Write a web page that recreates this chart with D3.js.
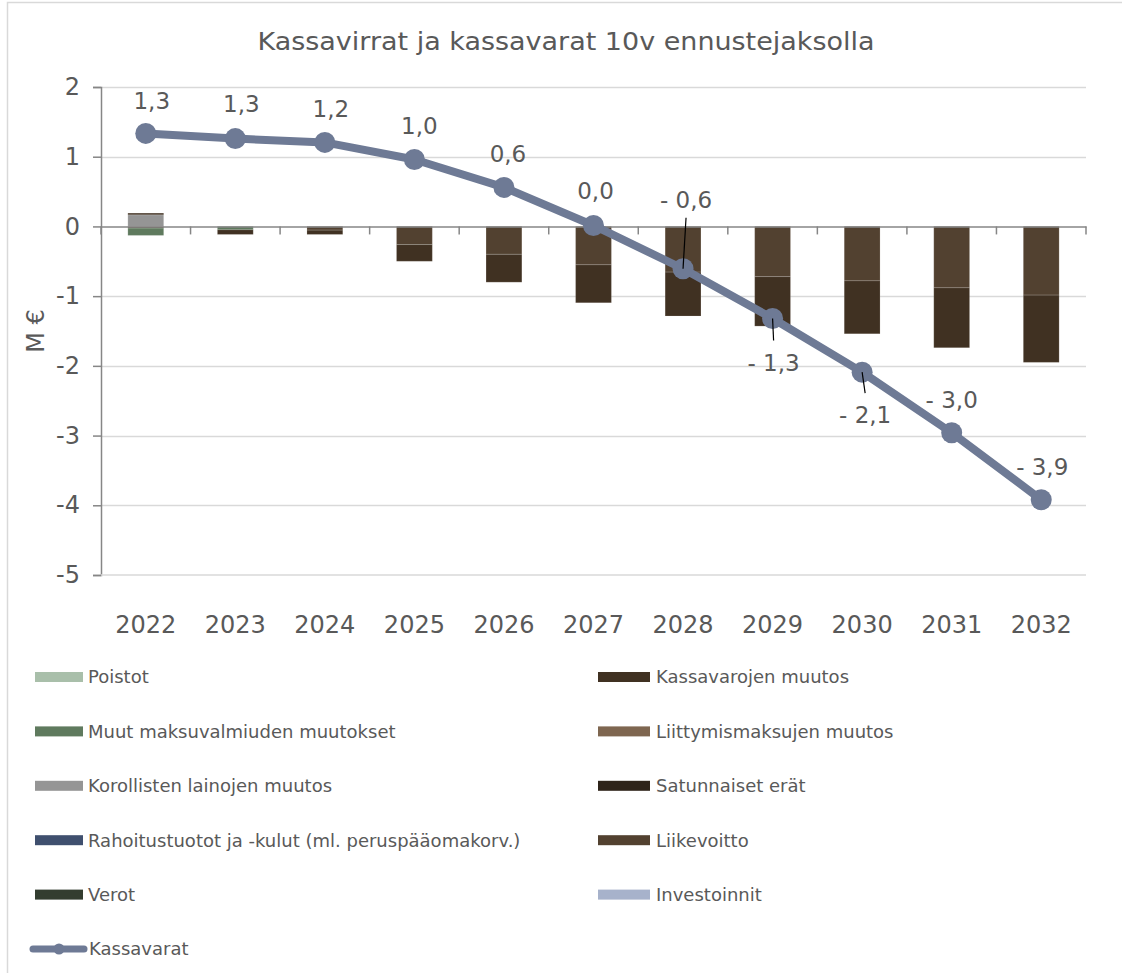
<!DOCTYPE html>
<html>
<head>
<meta charset="utf-8">
<script src="https://cdn.jsdelivr.net/npm/d3@7"></script>
<style>
  body { margin: 0; background: #fff; }
  text { font-family: "DejaVu Sans", Verdana, sans-serif; fill: #595959; }
</style>
</head>
<body>
<div id="chart"></div>
<script>
// years and series (M €)
const years = ["2022", "2023", "2024", "2025", "2026", "2027", "2028", "2029", "2030", "2031", "2032"];

const poistot        = [0, 0, 0, 0, 0, 0, 0, 0, 0, 0, 0];
const muutMaksu      = [-0.105, -0.048, 0, 0, 0, 0, 0, 0, 0, 0, 0];
const korollisetLainat = [0.167, 0, 0, 0, 0, 0, 0, 0, 0, 0, 0];
const rahoitus       = [0, 0, 0, 0, 0, 0, 0, 0, 0, 0, 0];
const verot          = [0, 0, 0, 0, 0, 0, 0, 0, 0, 0, 0];
const kassavarojenMuutos = [0.024, -0.067, -0.062, -0.24, -0.40, -0.545, -0.63, -0.71, -0.76, -0.86, -0.965];
const liittymismaksut = [0, 0, 0, 0, 0, 0, 0, 0, 0, 0, 0];
const satunnaiset    = [0, 0, 0, 0, 0, 0, 0, 0, 0, 0, 0];
const liikevoitto    = [-0.024, 0, -0.053, -0.26, -0.40, -0.55, -0.655, -0.72, -0.78, -0.88, -0.985];
const investoinnit   = [0, 0, 0, 0, 0, 0, 0, 0, 0, 0, 0];

const kassavarat = [1.334, 1.26, 1.205, 0.96, 0.56, 0.014, -0.607, -1.32, -2.09, -2.96, -3.92];

const yTicks = [2, 1, 0, -1, -2, -3, -4, -5];

const series = [
  { key: "Poistot", values: poistot, color: "#A9BFAA" },
  { key: "Muut maksuvalmiuden muutokset", values: muutMaksu, color: "#5F7A5E" },
  { key: "Korollisten lainojen muutos", values: korollisetLainat, color: "#959595" },
  { key: "Rahoitustuotot ja -kulut (ml. peruspääomakorv.)", values: rahoitus, color: "#3F4F6E" },
  { key: "Verot", values: verot, color: "#333D30" },
  { key: "Kassavarojen muutos", values: kassavarojenMuutos, color: "#403122" },
  { key: "Liittymismaksujen muutos", values: liittymismaksut, color: "#7E6650" },
  { key: "Satunnaiset erät", values: satunnaiset, color: "#2E241A" },
  { key: "Liikevoitto", values: liikevoitto, color: "#524130" },
  { key: "Investoinnit", values: investoinnit, color: "#A7B2CB" }
];
// order the segments are piled from the axis outward
const stackOrder = ["Liikevoitto", "Poistot", "Muut maksuvalmiuden muutokset", "Korollisten lainojen muutos",
  "Rahoitustuotot ja -kulut (ml. peruspääomakorv.)", "Verot", "Liittymismaksujen muutos",
  "Satunnaiset erät", "Investoinnit", "Kassavarojen muutos"];

const lineColor = "#6E7A95";

// label placement per point: dx, dy from the marker; lead = draw a leader line
const labelPlace = [
  { dx: 6, dy: -33 }, { dx: 6, dy: -35 }, { dx: 6, dy: -34 }, { dx: 5, dy: -34 },
  { dx: 4, dy: -34 }, { dx: 2, dy: -35 }, { dx: 3, dy: -69, lead: true },
  { dx: 1, dy: 44, lead: true }, { dx: 3, dy: 43, lead: true }, { dx: 0, dy: -33 }, { dx: 1, dy: -33 }
];

const width = 1122;
const height = 973;
const margins = { top: 87, bottom: 398, left: 101, right: 36 };

const table = years.map((y, i) => {
  const row = { year: y };
  series.forEach(s => row[s.key] = s.values[i]);
  return row;
});
console.log('table', table);

const stacked = d3.stack()
  .keys(stackOrder)
  .offset(d3.stackOffsetDiverging)(table);

const xScale = d3.scaleBand()
  .domain(years)
  .range([margins.left, width - margins.right]);

const yScale = d3.scaleLinear()
  .domain([-5, 2])
  .range([height - margins.bottom, margins.top]);

const colorOf = d3.scaleOrdinal()
  .domain(series.map(s => s.key))
  .range(series.map(s => s.color));

const svg = d3.select("#chart")
  .append("svg")
  .attr("width", width)
  .attr("height", height);

// chart frame
svg.append("rect")
  .attr("x", 7.5).attr("y", 2.5)
  .attr("width", 1200).attr("height", 1200)
  .attr("fill", "none")
  .attr("stroke", "#D9D9D9")
  .attr("stroke-width", 1.5);

svg.append("text")
  .attr("x", 566)
  .attr("y", 50)
  .attr("text-anchor", "middle")
  .attr("textLength", 617)
  .attr("lengthAdjust", "spacingAndGlyphs")
  .style("font-size", "25px")
  .text("Kassavirrat ja kassavarat 10v ennustejaksolla");

// grid
svg.selectAll("line.grid")
  .data(yTicks.filter(d => d !== 0 && d !== -5))
  .join("line")
  .attr("class", "grid")
  .attr("x1", margins.left)
  .attr("x2", width - margins.right)
  .attr("y1", d => Math.round(yScale(d)) + 0.5)
  .attr("y2", d => Math.round(yScale(d)) + 0.5)
  .attr("stroke", "#D9D9D9")
  .attr("stroke-width", 1.5);

// y axis
const yAxis = svg.append("g")
  .attr("transform", `translate(${margins.left},0)`)
  .call(d3.axisLeft(yScale).tickValues(yTicks).tickSize(8).tickPadding(13).tickFormat(d => String(d)));
yAxis.select(".domain").attr("stroke", "#868686").attr("stroke-width", 1.5);
yAxis.selectAll(".tick line").attr("stroke", "#868686").attr("stroke-width", 1.5);
yAxis.selectAll(".tick text").style("font-size", "24px").attr("fill", "#595959").style("font-family", "DejaVu Sans");

svg.append("line")
  .attr("x1", margins.left)
  .attr("x2", width - margins.right)
  .attr("y1", yScale(-5))
  .attr("y2", yScale(-5))
  .attr("stroke", "#D9D9D9")
  .attr("stroke-width", 1.5);

svg.append("text")
  .attr("transform", `translate(44,${yScale(-1.5)}) rotate(-90)`)
  .attr("text-anchor", "middle")
  .style("font-size", "24px")
  .text("M €");

// bars
const barW = xScale.bandwidth() / 2.5;
svg.append("g")
  .selectAll("g")
  .data(stacked)
  .join("g")
  .attr("fill", d => colorOf(d.key))
  .selectAll("rect")
  .data(d => d.filter(p => p[1] - p[0] !== 0))
  .join("rect")
  .attr("x", d => xScale(d.data.year) + (xScale.bandwidth() - barW) / 2)
  .attr("width", barW)
  .attr("y", d => yScale(d[1]))
  .attr("height", d => yScale(d[0]) - yScale(d[1]))
  .attr("stroke", "#ffffff")
  .attr("stroke-opacity", 0.15)
  .attr("stroke-width", 1);

// x axis on the zero line
const xAxis = svg.append("g")
  .attr("transform", `translate(0,${yScale(0)})`)
  .call(d3.axisBottom(xScale).tickSize(0).tickFormat(""));
xAxis.select(".domain").attr("stroke", "#868686").attr("stroke-width", 1.5);

const bounds = d3.range(years.length + 1).map(i => margins.left + i * xScale.step());
svg.selectAll("line.xtick")
  .data(bounds)
  .join("line")
  .attr("class", "xtick")
  .attr("x1", d => d).attr("x2", d => d)
  .attr("y1", yScale(0)).attr("y2", yScale(0) + 8)
  .attr("stroke", "#868686")
  .attr("stroke-width", 1.5);

svg.selectAll("text.year")
  .data(years)
  .join("text")
  .attr("class", "year")
  .attr("x", d => xScale(d) + xScale.bandwidth() / 2)
  .attr("y", 633)
  .attr("text-anchor", "middle")
  .style("font-size", "24px")
  .text(d => d);

// kassavarat line
const points = years.map((y, i) => ({ year: y, value: kassavarat[i], place: labelPlace[i] }));
const line = d3.line()
  .x(d => xScale(d.year) + xScale.bandwidth() / 2)
  .y(d => yScale(d.value));

svg.append("path")
  .datum(points)
  .attr("d", line)
  .attr("fill", "none")
  .attr("stroke", lineColor)
  .attr("stroke-width", 8)
  .attr("stroke-linejoin", "round");

svg.selectAll("circle.point")
  .data(points)
  .join("circle")
  .attr("class", "point")
  .attr("cx", d => xScale(d.year) + xScale.bandwidth() / 2)
  .attr("cy", d => yScale(d.value))
  .attr("r", 10.5)
  .attr("fill", lineColor);

const fmt = v => (v < 0 ? "- " : "") + d3.format(".1f")(Math.abs(v)).replace(".", ",");

svg.selectAll("line.leader")
  .data(points.filter(d => d.place.lead))
  .join("line")
  .attr("class", "leader")
  .attr("x1", d => xScale(d.year) + xScale.bandwidth() / 2)
  .attr("y1", d => yScale(d.value))
  .attr("x2", d => xScale(d.year) + xScale.bandwidth() / 2 + d.place.dx)
  .attr("y2", d => yScale(d.value) + d.place.dy + (d.place.dy < 0 ? 18 : -22))
  .attr("stroke", "#000")
  .attr("stroke-width", 1.2);

svg.selectAll("text.label")
  .data(points)
  .join("text")
  .attr("class", "label")
  .attr("x", d => xScale(d.year) + xScale.bandwidth() / 2 + d.place.dx)
  .attr("y", d => yScale(d.value) + d.place.dy)
  .attr("dy", "0.36em")
  .attr("text-anchor", "middle")
  .style("font-size", "23px")
  .text(d => fmt(d.value));

// legend, two columns
const leftCol = ["Poistot", "Muut maksuvalmiuden muutokset", "Korollisten lainojen muutos",
  "Rahoitustuotot ja -kulut (ml. peruspääomakorv.)", "Verot"];
const rightCol = ["Kassavarojen muutos", "Liittymismaksujen muutos", "Satunnaiset erät", "Liikevoitto", "Investoinnit"];
const legendItems = leftCol.map((k, i) => ({ key: k, x: 35, w: 48, tx: 88, row: i }))
  .concat(rightCol.map((k, i) => ({ key: k, x: 598, w: 52, tx: 656, row: i })));
const rowY = r => 677 + r * 54.4;

const legend = svg.append("g");
legend.selectAll("rect")
  .data(legendItems)
  .join("rect")
  .attr("x", d => d.x)
  .attr("y", d => rowY(d.row) - 5)
  .attr("width", d => d.w)
  .attr("height", 10)
  .attr("fill", d => colorOf(d.key));

legend.selectAll("text")
  .data(legendItems)
  .join("text")
  .attr("x", d => d.tx)
  .attr("y", d => rowY(d.row))
  .attr("dy", "0.36em")
  .style("font-size", "18px")
  .text(d => d.key);

legend.append("line")
  .attr("x1", 33).attr("x2", 84)
  .attr("y1", rowY(5)).attr("y2", rowY(5))
  .attr("stroke", lineColor)
  .attr("stroke-width", 7)
  .attr("stroke-linecap", "round");
legend.append("circle")
  .attr("cx", 59).attr("cy", rowY(5)).attr("r", 5.5)
  .attr("fill", lineColor);
legend.append("text")
  .attr("x", 89).attr("y", rowY(5))
  .attr("dy", "0.36em")
  .style("font-size", "18px")
  .text("Kassavarat");
</script>
</body>
</html>
